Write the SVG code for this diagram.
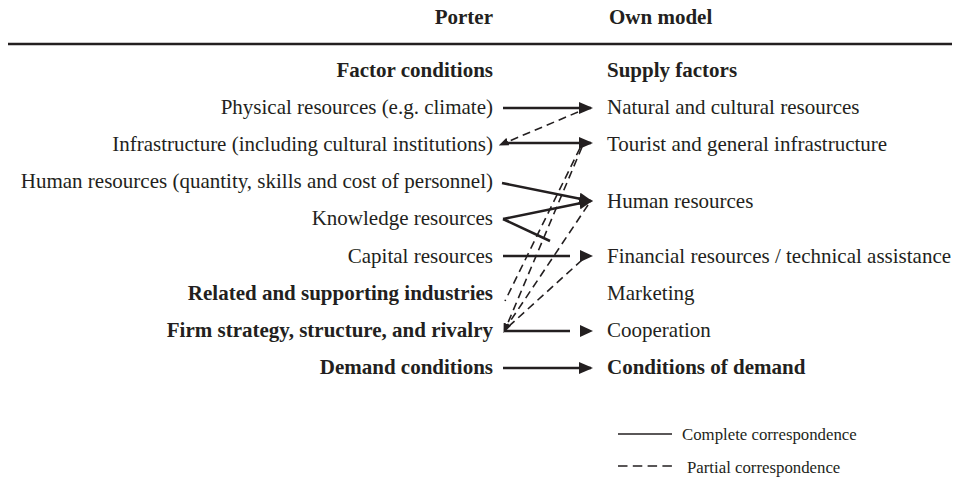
<svg xmlns="http://www.w3.org/2000/svg" width="959" height="488" viewBox="0 0 959 488">
<style>
text{font-family:"Liberation Serif","Times New Roman",serif;font-size:21px;fill:#231f20}
.b{font-weight:bold}
.l{text-anchor:end}
.lg{font-size:16.8px}
.s{stroke:#231f20;stroke-width:2.6;fill:none}
.d{stroke:#231f20;stroke-width:1.6;fill:none;stroke-dasharray:8 5}
.h{fill:#231f20;stroke:none}
</style>
<defs>
<marker id="ah" viewBox="0 0 14 12" refX="12" refY="6" markerWidth="14" markerHeight="12" markerUnits="userSpaceOnUse" orient="auto">
<path d="M0,0 L14,6 L0,12 z" fill="#231f20"/>
</marker>
<marker id="sh" viewBox="0 0 10 8" refX="1" refY="4" markerWidth="10" markerHeight="8" markerUnits="userSpaceOnUse" orient="auto-start-reverse">
<path d="M0,0 L10,4 L0,8 z" fill="#231f20"/>
</marker>
</defs>
<rect width="959" height="488" fill="#fff"/>
<g id="header">
<text class="b l" x="493" y="24">Porter</text>
<text class="b" x="609" y="24">Own model</text>
<line x1="8" y1="44" x2="952" y2="44" stroke="#231f20" stroke-width="2.4"/>
</g>
<g id="left-nodes">
<g id="n-factor"><text class="b l" x="493" y="77">Factor conditions</text></g>
<g id="n-physical"><text class="l" x="493" y="114">Physical resources (e.g. climate)</text></g>
<g id="n-infra"><text class="l" x="493" y="151">Infrastructure (including cultural institutions)</text></g>
<g id="n-human"><text class="l" x="493" y="188">Human  resources (quantity, skills and cost of personnel)</text></g>
<g id="n-knowledge"><text class="l" x="493" y="225">Knowledge resources</text></g>
<g id="n-capital"><text class="l" x="493" y="263">Capital resources</text></g>
<g id="n-related"><text class="b l" x="493" y="300">Related and supporting industries</text></g>
<g id="n-firm"><text class="b l" x="493" y="337">Firm strategy, structure, and rivalry</text></g>
<g id="n-demand"><text class="b l" x="493" y="374">Demand conditions</text></g>
</g>
<g id="right-nodes">
<g id="m-supply"><text class="b" x="607" y="77">Supply factors</text></g>
<g id="m-natural"><text x="607" y="114">Natural and cultural resources</text></g>
<g id="m-tourist"><text x="607" y="151">Tourist and general infrastructure</text></g>
<g id="m-human"><text x="607" y="208">Human resources</text></g>
<g id="m-financial"><text x="607" y="263">Financial resources / technical assistance</text></g>
<g id="m-marketing"><text x="607" y="300">Marketing</text></g>
<g id="m-cooperation"><text x="607" y="337">Cooperation</text></g>
<g id="m-demand"><text class="b" x="607" y="374">Conditions of demand</text></g>
</g>
<g id="connectors">
<line class="s" x1="503" y1="108" x2="591" y2="108" marker-end="url(#ah)"/>
<line class="s" x1="503" y1="143" x2="591" y2="143" marker-end="url(#ah)"/>
<line class="s" x1="502" y1="183" x2="591" y2="201" marker-end="url(#ah)"/>
<line class="s" x1="503" y1="219" x2="591" y2="201" marker-end="url(#ah)"/>
<line class="s" x1="503" y1="219" x2="550" y2="241"/>
<line class="s" x1="503" y1="256" x2="570" y2="256"/>
<path class="h" d="M580,250 L593,256 L580,262 z"/>
<line class="s" x1="505" y1="331" x2="570" y2="331"/>
<path class="h" d="M580,325 L593,331 L580,337 z"/>
<line class="s" x1="503" y1="368" x2="591" y2="368" marker-end="url(#ah)"/>
<line class="d" x1="578" y1="112" x2="507" y2="142" marker-end="url(#sh)"/>
<line class="d" x1="580" y1="148" x2="505" y2="301"/>
<line class="d" x1="582" y1="147" x2="507" y2="325" marker-end="url(#sh)"/>
<line class="d" x1="588" y1="205" x2="507" y2="326"/>
<line class="d" x1="582" y1="260" x2="508" y2="327"/>
</g>
<g id="legend">
<line x1="618" y1="434" x2="672" y2="434" stroke="#231f20" stroke-width="1.6"/>
<text class="lg" x="682" y="440">Complete correspondence</text>
<line x1="618" y1="466" x2="672" y2="466" stroke="#231f20" stroke-width="1.6" stroke-dasharray="9.5 5.3"/>
<text class="lg" x="687" y="473">Partial correspondence</text>
</g>
</svg>
